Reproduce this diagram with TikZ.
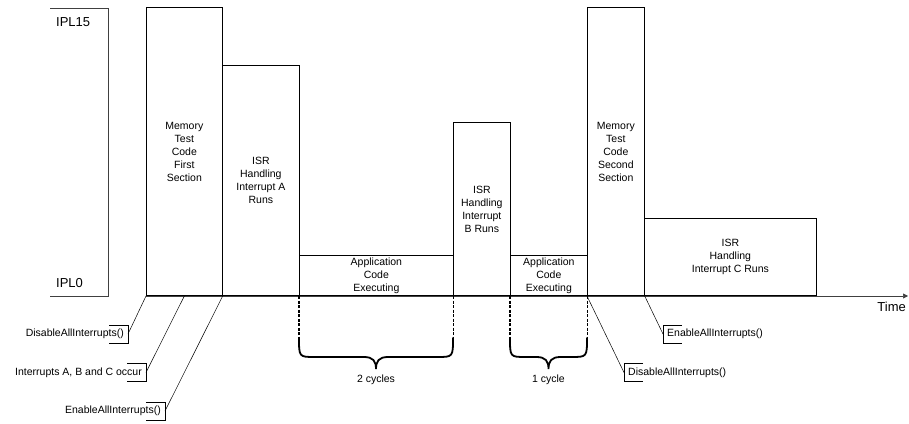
\documentclass[tikz,border=0pt]{standalone}
\usepackage{fontspec}
\setmainfont{Liberation Sans}
\usepackage{tikz}
\usetikzlibrary{arrows.meta,positioning,calc}

\begin{document}
\begin{tikzpicture}[x=1pt,y=-1pt,
  blk/.style={draw,line width=0.7pt,inner sep=0pt,anchor=south west,align=center,font=\fontsize{10.5}{13}\selectfont},
  call/.style={inner xsep=4pt,inner ysep=0pt,minimum height=18pt,font=\fontsize{10.5}{13}\selectfont},
  ldr/.style={line width=0.5pt},
  dsh/.style={line width=1.5pt,dash pattern=on 3pt off 1.5pt},
  brc/.style={line width=1.8pt,line cap=round}]
\useasboundingbox (0,0) rectangle (909,423);
% priority level scale
\draw[line width=0.7pt,black!75] (50,8) -- (108,8) -- (108,296) -- (50,296);
\node[anchor=base west,inner sep=0pt,font=\fontsize{13}{15}\selectfont] (ipl15) at (56,26) {IPL15};
\node[anchor=base west,inner sep=0pt,font=\fontsize{13}{15}\selectfont] (ipl0) at (56,287) {IPL0};
% execution blocks
\node[blk,minimum width=76pt,minimum height=288pt] (mem1) at (146,296) {Memory\\Test\\Code\\First\\Section};
\node[blk,minimum width=77pt,minimum height=230pt] (isrA) at (222,296) {ISR\\Handling\\Interrupt A\\Runs};
\node[blk,minimum width=154pt,minimum height=40pt] (app1) at (299,296) {Application\\Code\\Executing};
\node[blk,minimum width=57pt,minimum height=173pt] (isrB) at (453,296) {ISR\\Handling\\Interrupt\\B Runs};
\node[blk,minimum width=77pt,minimum height=40pt] (app2) at (510,296) {Application\\Code\\Executing};
\node[blk,minimum width=57pt,minimum height=288pt] (mem2) at (587,296) {Memory\\Test\\Code\\Second\\Section};
\node[blk,minimum width=172pt,minimum height=77pt] (isrC) at (644,296) {ISR\\Handling\\Interrupt C Runs};
% time axis
\coordinate (tend) at (908,296);
\draw[line width=0.7pt,black!75,-{Triangle[length=5pt,width=5pt]}] (mem1.south west) -- (tend);
\node[anchor=north east,inner sep=0pt,font=\fontsize{13}{15}\selectfont] (time) at (906,302) {Time};
% call-outs
\node[call,anchor=east] (dis1) at (128,334) {DisableAllInterrupts()};
\node[call,anchor=east] (irq) at (146,372.5) {Interrupts A, B and C occur};
\node[call,anchor=east] (en1) at (165,411) {EnableAllInterrupts()};
\node[call,anchor=west] (en2) at (663,334) {EnableAllInterrupts()};
\node[call,anchor=west] (dis2) at (624,372.5) {DisableAllInterrupts()};
\foreach \c in {dis1,irq,en1}
  \draw[ldr] ([xshift=-19pt]\c.north east) -- (\c.north east) -- (\c.south east) -- ([xshift=-19pt]\c.south east);
\foreach \c in {en2,dis2}
  \draw[ldr] ([xshift=19pt]\c.north west) -- (\c.north west) -- (\c.south west) -- ([xshift=19pt]\c.south west);
\draw[ldr] (mem1.south west) -- (dis1.east);
\draw[ldr] (mem1.south) -- (irq.east);
\draw[ldr] (mem1.south east) -- (en1.east);
\draw[ldr] (mem2.south west) -- (dis2.west);
\draw[ldr] (mem2.south east) -- (en2.west);
% cycle braces
\foreach \a/\l/\r/\n/\t in {app1/299/453/cyc2/2 cycles, app2/510/587/cyc1/1 cycle} {
  \pgfmathsetmacro\m{(\l+\r)/2}
  \draw[dsh] (\a.south west) -- ++(0,42);
  \draw[dsh] (\a.south east) -- ++(0,42);
  \draw[brc] (\l,338) .. controls (\l,357) .. (\l+16,357) -- (\m-12,357)
    .. controls (\m-3,357) and (\m,361) .. (\m,369)
    .. controls (\m,361) and (\m+3,357) .. (\m+12,357) -- (\r-16,357)
    .. controls (\r,357) .. (\r,338);
  \node[font=\fontsize{10.5}{13}\selectfont] (\n) at (\m,380) {\t};
}
\end{tikzpicture}
\end{document}
